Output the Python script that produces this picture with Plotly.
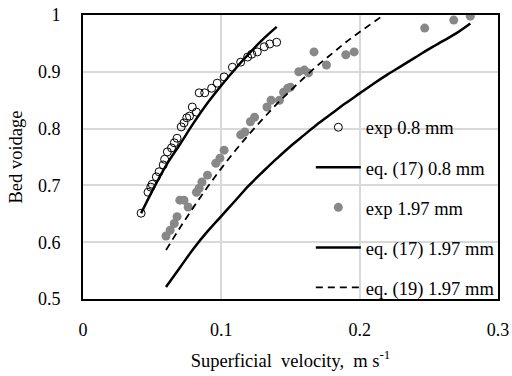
import plotly.graph_objects as go

# exp 0.8 mm (open circles)
exp08_x = [0.042, 0.047, 0.049, 0.050, 0.053, 0.055, 0.058, 0.059, 0.061, 0.064, 0.066, 0.068,
           0.071, 0.073, 0.075, 0.077, 0.079, 0.082, 0.084, 0.088, 0.093, 0.097, 0.102,
           0.108, 0.114, 0.119, 0.122, 0.126, 0.131, 0.135, 0.140]
exp08_y = [0.651, 0.688, 0.697, 0.702, 0.715, 0.724, 0.736, 0.746, 0.759, 0.766, 0.775, 0.783,
           0.803, 0.810, 0.819, 0.822, 0.838, 0.829, 0.863, 0.863, 0.871, 0.880, 0.891,
           0.908, 0.917, 0.926, 0.931, 0.935, 0.944, 0.949, 0.952]

# eq. (17) 0.8 mm
eq17_08_x = [0.042, 0.05, 0.06, 0.07, 0.08, 0.09, 0.10, 0.11, 0.12, 0.13, 0.14]
eq17_08_y = [0.651, 0.690, 0.735, 0.772, 0.810, 0.845, 0.876, 0.905, 0.932, 0.957, 0.979]

# exp 1.97 mm (grey dots)
exp197_x = [0.060, 0.063, 0.066, 0.068, 0.070, 0.073, 0.076, 0.082, 0.084, 0.086, 0.090,
            0.096, 0.099, 0.102, 0.114, 0.117, 0.121, 0.124, 0.133, 0.136, 0.142, 0.145,
            0.148, 0.150, 0.156, 0.160, 0.163, 0.167, 0.176, 0.190, 0.196, 0.247, 0.268, 0.280]
exp197_y = [0.611, 0.621, 0.633, 0.645, 0.674, 0.674, 0.662, 0.688, 0.695, 0.706, 0.718,
            0.739, 0.748, 0.762, 0.789, 0.794, 0.812, 0.820, 0.838, 0.850, 0.850, 0.864,
            0.871, 0.873, 0.900, 0.903, 0.898, 0.935, 0.912, 0.930, 0.935, 0.977, 0.991, 0.998]

# eq. (17) 1.97 mm
eq17_197_x = [0.060, 0.07, 0.08, 0.09, 0.10, 0.11, 0.12, 0.13, 0.14, 0.15, 0.16, 0.17, 0.18,
              0.19, 0.20, 0.21, 0.22, 0.23, 0.24, 0.25, 0.26, 0.27, 0.28]
eq17_197_y = [0.521, 0.555, 0.589, 0.619, 0.646, 0.673, 0.700, 0.724, 0.747, 0.769, 0.789,
              0.809, 0.827, 0.845, 0.862, 0.879, 0.895, 0.910, 0.925, 0.940, 0.954, 0.968, 0.985]

# eq. (19) 1.97 mm
eq19_197_x = [0.060, 0.07, 0.08, 0.09, 0.10, 0.11, 0.12, 0.13, 0.14, 0.15, 0.16, 0.17, 0.18,
              0.19, 0.20, 0.215]
eq19_197_y = [0.586, 0.625, 0.662, 0.697, 0.730, 0.761, 0.790, 0.817, 0.843, 0.867, 0.890,
              0.912, 0.932, 0.952, 0.970, 0.996]

x_ticks = [0, 0.1, 0.2, 0.3]
x_tick_labels = ["0", "0.1", "0.2", "0.3"]
y_ticks = [0.5, 0.6, 0.7, 0.8, 0.9, 1.0]
y_tick_labels = ["0.5", "0.6", "0.7", "0.8", "0.9", "1"]

FONT = "Liberation Serif"

fig = go.Figure()
fig.add_trace(go.Scatter(x=exp08_x, y=exp08_y, mode="markers", name="exp 0.8 mm",
                         legendgroup="a",
                         marker=dict(symbol="circle-open", size=8, color="black",
                                     line=dict(width=1, color="black"))))
fig.add_trace(go.Scatter(x=eq17_08_x, y=eq17_08_y, mode="lines", name="eq. (17) 0.8 mm",
                         legendgroup="b", line=dict(color="black", width=2.5, shape="spline")))
fig.add_trace(go.Scatter(x=exp197_x, y=exp197_y, mode="markers", name="exp 1.97 mm",
                         legendgroup="c",
                         marker=dict(symbol="circle", size=9, color="#888888")))
fig.add_trace(go.Scatter(x=eq17_197_x, y=eq17_197_y, mode="lines", name="eq. (17) 1.97 mm",
                         legendgroup="d", line=dict(color="black", width=2.5, shape="spline")))
fig.add_trace(go.Scatter(x=eq19_197_x, y=eq19_197_y, mode="lines", name="eq. (19) 1.97 mm",
                         legendgroup="e", line=dict(color="black", width=1.8, dash="7px,5px",
                                                    shape="spline")))

fig.update_layout(
    width=512, height=376,
    margin=dict(l=83, r=12, t=15, b=77),
    paper_bgcolor="white", plot_bgcolor="white",
    font=dict(family=FONT, size=18, color="black"),
    legend=dict(x=0.549, y=0.67, xanchor="left", yanchor="top",
                bgcolor="rgba(0,0,0,0)", traceorder="grouped", tracegroupgap=13,
                itemwidth=45, font=dict(family=FONT, size=18.5, color="black")),
    xaxis=dict(range=[0, 0.3], tickvals=x_ticks, ticktext=x_tick_labels,
               showgrid=True, gridcolor="#d9d9d9", gridwidth=1.5,
               showline=True, linecolor="black", linewidth=2, mirror=True,
               ticks="outside", ticklen=13, tickcolor="rgba(0,0,0,0)",
               zeroline=False, automargin=False,
               tickfont=dict(family=FONT, size=18),
               title=dict(text="Superficial  velocity,  m s<sup>-1</sup>",
                          font=dict(family=FONT, size=18.5), standoff=15)),
    yaxis=dict(range=[0.5, 1.0], tickvals=y_ticks, ticktext=y_tick_labels,
               showgrid=True, gridcolor="#d9d9d9", gridwidth=1.5,
               showline=True, linecolor="black", linewidth=2, mirror=True,
               ticks="outside", ticklen=17, tickcolor="rgba(0,0,0,0)",
               zeroline=False, automargin=False,
               tickfont=dict(family=FONT, size=18),
               title=dict(text="Bed voidage", font=dict(family=FONT, size=18.5), standoff=10)),
)

fig.write_html("out.html")
